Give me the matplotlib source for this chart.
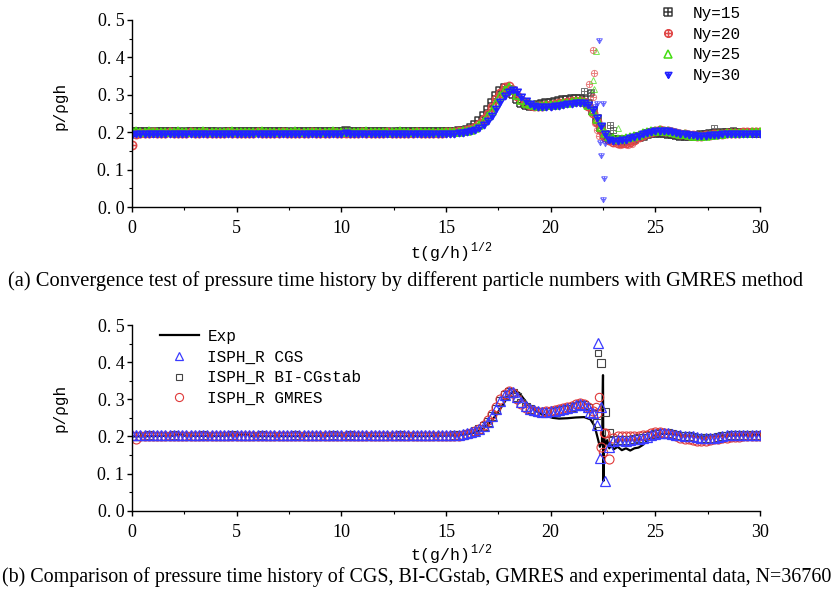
import numpy as np
import matplotlib.pyplot as plt
from matplotlib.path import Path
from matplotlib.ticker import MultipleLocator

# time samples of the simulation output, t(g/h)^(1/2)
T = np.round(np.arange(0, 30.01, 0.2), 1)

# ---- (a) convergence test, GMRES, different Ny ----
NY15 = [.200, .200, .201, .200, .200, .199, .200, .200, .201, .200, .200, .200, .199, .200, .200,
        .200, .201, .200, .200, .200, .200, .199, .200, .200, .200, .201, .200, .200, .200, .200,
        .200, .200, .200, .201, .200, .200, .200, .200, .199, .200, .200, .200, .200, .200, .200,
        .200, .201, .200, .201, .200, .200, .203, .201, .200, .201, .200, .200, .200, .200, .200,
        .200, .200, .199, .200, .200, .200, .200, .201, .200, .200, .200, .200, .200, .200, .200,
        .200, .200, .201, .202, .204, .207, .212, .219, .229, .243, .259, .277, .296, .311, .318,
        .314, .302, .288, .277, .272, .270, .271, .273, .275, .277, .279, .281, .283, .285, .287,
        .289, .290, .290, .286, .276, .258, .234, .210, .193, .184, .180, .178, .177, .178, .180,
        .183, .187, .191, .195, .198, .199, .199, .198, .196, .194, .192, .191, .190, .190, .190,
        .191, .192, .193, .194, .195, .196, .197, .197, .198, .198, .199, .199, .199, .199, .199,
        .199]
NY20 = [.165, .196, .199, .199, .199, .200, .199, .199, .199, .200, .199, .199, .199, .199, .200,
        .199, .199, .200, .199, .199, .199, .199, .199, .200, .199, .199, .199, .199, .199, .199,
        .200, .199, .199, .199, .199, .199, .200, .199, .199, .199, .199, .199, .199, .200, .199,
        .199, .199, .199, .200, .199, .199, .199, .199, .199, .199, .200, .199, .199, .199, .199,
        .199, .200, .199, .199, .199, .199, .199, .199, .200, .199, .199, .199, .199, .199, .199,
        .200, .200, .201, .202, .203, .205, .209, .215, .223, .235, .250, .268, .288, .306, .320,
        .324, .313, .298, .285, .277, .273, .271, .270, .271, .272, .273, .275, .277, .279, .281,
        .283, .284, .284, .280, .270, .252, .228, .205, .188, .178, .173, .171, .171, .172, .175,
        .180, .186, .192, .197, .201, .204, .205, .204, .202, .200, .198, .196, .194, .193, .192,
        .191, .191, .192, .193, .194, .195, .196, .197, .198, .199, .199, .200, .200, .200, .200,
        .200]
NY25 = [.203, .202, .201, .201, .202, .201, .201, .201, .201, .201, .201, .202, .201, .201, .201,
        .201, .201, .202, .201, .201, .201, .201, .201, .201, .202, .201, .201, .201, .201, .201,
        .201, .202, .201, .201, .201, .201, .201, .201, .201, .202, .201, .201, .201, .201, .201,
        .201, .201, .201, .202, .201, .201, .201, .201, .201, .201, .201, .202, .201, .201, .201,
        .201, .201, .201, .201, .202, .201, .201, .201, .201, .201, .201, .201, .201, .201, .201,
        .200, .200, .200, .201, .202, .204, .207, .212, .219, .229, .242, .258, .278, .297, .312,
        .320, .314, .300, .287, .279, .275, .272, .271, .271, .272, .273, .274, .275, .277, .279,
        .281, .283, .283, .281, .274, .258, .236, .214, .197, .188, .184, .183, .183, .184, .186,
        .189, .193, .197, .200, .203, .204, .205, .204, .203, .200, .198, .196, .194, .192, .191,
        .190, .190, .191, .192, .193, .195, .196, .197, .198, .198, .199, .199, .199, .200, .200,
        .200]
NY30 = [.195, .198, .199, .198, .199, .199, .199, .198, .199, .199, .199, .199, .198, .199, .199,
        .199, .198, .199, .199, .199, .199, .199, .198, .199, .199, .199, .199, .199, .198, .199,
        .199, .199, .199, .198, .199, .199, .199, .199, .199, .198, .199, .199, .199, .199, .199,
        .198, .199, .199, .199, .199, .199, .200, .199, .199, .199, .198, .199, .199, .199, .199,
        .199, .198, .199, .199, .199, .199, .199, .199, .198, .199, .199, .199, .199, .199, .199,
        .199, .199, .199, .200, .200, .202, .205, .209, .215, .223, .233, .247, .264, .284, .300,
        .311, .316, .310, .298, .286, .278, .274, .271, .270, .270, .271, .272, .273, .275, .277,
        .279, .281, .281, .280, .275, .263, .240, .220, .198, .183, .180, .180, .181, .183, .186,
        .189, .193, .197, .201, .204, .205, .206, .206, .205, .203, .201, .199, .197, .195, .194,
        .193, .193, .193, .194, .195, .196, .197, .197, .198, .198, .199, .199, .199, .199, .199,
        .199]
# scattered points around the impact
NY15_XT = [21.6, 21.9, 21.93, 22.84, 23.0, 27.8, 28.7]
NY15_XP = [.311, .304, .308, .219, .206, .211, .206]
NY20_XT = [22.04, 22.07, 21.84, 22.04, 22.23, 22.12, 23.3, 23.7, 23.9, 22.3]
NY20_XP = [.420, .359, .329, .293, .206, .224, .166, .166, .168, .190]
NY25_XT = [22.15, 22.04, 22.07, 23.24, 22.4]
NY25_XP = [.418, .340, .315, .210, .220]
NY30_XT = [22.3, 22.36, 22.4, 22.57, 22.5, 22.2, 22.5, 22.1, 22.7, 22.6]
NY30_XP = [.447, .175, .139, .077, .021, .277, .277, .270, .190, .170]

# ---- (b) solver comparison, N=36760 ----
CGS = [.203, .203, .203, .203, .204, .203, .203, .203, .203, .203, .204, .203, .203, .203, .203,
       .203, .203, .204, .203, .203, .203, .203, .203, .203, .204, .203, .203, .203, .203, .203,
       .203, .204, .203, .203, .203, .203, .203, .203, .203, .204, .203, .203, .203, .203, .203,
       .203, .203, .203, .204, .203, .203, .203, .204, .203, .203, .203, .203, .203, .203, .203,
       .203, .203, .203, .203, .204, .203, .203, .203, .203, .203, .203, .203, .203, .203, .203,
       .203, .203, .204, .205, .206, .208, .211, .215, .221, .228, .240, .256, .275, .296, .312,
       .320, .319, .306, .292, .281, .274, .270, .268, .267, .267, .268, .269, .271, .273, .276,
       .280, .284, .286, .285, .278, .262, .232, .280, .080, .172, .188, .190, .190, .189, .190,
       .192, .194, .196, .199, .203, .206, .208, .209, .209, .207, .205, .203, .202, .201, .200,
       .198, .197, .196, .196, .197, .199, .201, .203, .204, .205, .205, .205, .205, .205, .205,
       .205]
BICG = [.202, .202, .202, .202, .203, .202, .202, .202, .202, .202, .203, .202, .202, .202, .202,
        .202, .202, .203, .202, .202, .202, .202, .202, .202, .203, .202, .202, .202, .202, .202,
        .202, .203, .202, .202, .202, .202, .202, .202, .202, .203, .202, .202, .202, .202, .202,
        .202, .202, .202, .203, .202, .202, .202, .203, .202, .202, .202, .202, .202, .202, .202,
        .202, .202, .202, .202, .203, .202, .202, .202, .202, .202, .202, .202, .202, .202, .202,
        .202, .202, .203, .204, .205, .207, .210, .214, .220, .227, .239, .255, .274, .295, .311,
        .319, .318, .305, .291, .280, .273, .269, .267, .266, .266, .267, .268, .270, .272, .275,
        .279, .283, .285, .284, .277, .261, .235, .399, .267, .210, .190, .191, .191, .190, .191,
        .193, .195, .197, .200, .204, .207, .209, .209, .208, .206, .204, .202, .201, .200, .199,
        .197, .196, .195, .195, .196, .198, .200, .202, .203, .204, .204, .204, .204, .204, .204,
        .204]
GMRES = [.200, .193, .200, .200, .200, .200, .201, .200, .200, .200, .200, .200, .200, .201, .200,
         .200, .200, .200, .200, .200, .201, .200, .200, .200, .200, .200, .200, .200, .201, .200,
         .200, .200, .200, .200, .200, .200, .201, .200, .200, .200, .200, .200, .200, .200, .201,
         .200, .200, .200, .200, .200, .200, .200, .201, .200, .200, .200, .200, .200, .200, .200,
         .201, .200, .200, .200, .200, .200, .200, .200, .200, .201, .200, .200, .200, .200, .200,
         .200, .200, .201, .202, .204, .207, .210, .215, .221, .230, .243, .260, .280, .300, .315,
         .322, .316, .301, .287, .277, .271, .268, .267, .267, .268, .269, .271, .273, .276, .279,
         .283, .287, .289, .287, .280, .268, .262, .172, .210, .139, .195, .200, .201, .200, .200,
         .200, .201, .203, .205, .208, .211, .211, .210, .207, .203, .200, .197, .194, .192, .190,
         .189, .188, .189, .190, .192, .194, .196, .197, .198, .199, .199, .200, .200, .200, .200,
         .200]
CGS_XT = [22.28, 22.36, 21.9]
CGS_XP = [.452, .141, .267]
BICG_XT = [22.27]
BICG_XP = [.424]
GMRES_XT = [22.33, 22.48, 22.57, 22.17]
GMRES_XP = [.305, .159, .210, .280]

EXP_T = [0.0, 1.0, 2.0, 2.3, 2.5, 4.0, 5.5, 5.7, 8.0, 10.0, 12.0, 14.0, 15.0, 15.5, 16.0, 16.4,
         16.8, 17.2, 17.6, 17.9, 18.1, 18.3, 18.5, 18.7, 18.9, 19.2, 19.5, 19.8, 20.1, 20.4, 20.8,
         21.2, 21.6, 21.9, 22.1, 22.25, 22.35, 22.45, 22.5, 22.52, 22.55, 22.6, 22.7, 22.8, 22.9,
         23.0, 23.2, 23.4, 23.6, 23.8, 24.0, 24.2, 24.4, 24.6, 24.8, 25.0, 25.3, 25.6, 26.0, 27.0,
         28.0, 29.0, 30.0]
EXP_P = [.200, .201, .202, .206, .202, .201, .205, .201, .201, .202, .201, .201, .202, .203, .206,
         .211, .222, .243, .275, .302, .316, .322, .317, .302, .287, .272, .262, .255, .250, .248,
         .249, .251, .252, .246, .228, .195, .172, .185, .365, .080, .200, .175, .190, .168, .178,
         .165, .172, .163, .168, .162, .168, .170, .177, .187, .196, .203, .207, .207, .205, .199,
         .201, .203, .204]

YTICKS = [0.0, 0.1, 0.2, 0.3, 0.4, 0.5]
YTICKLABELS = ['0. 0', '0. 1', '0. 2', '0. 3', '0. 4', '0. 5']
XTICKS = [0, 5, 10, 15, 20, 25, 30]

# marker shapes seen in panel (a)
M, L = Path.MOVETO, Path.LINETO
BOX_PLUS = Path([(-1, -1), (1, -1), (1, 1), (-1, 1), (-1, -1), (0, -1), (0, 1), (-1, 0), (1, 0)],
                [M, L, L, L, L, M, L, M, L])
CIRC_PLUS = Path.make_compound_path(Path.unit_circle(),
                                    Path([(0, -1), (0, 1), (-1, 0), (1, 0)], [M, L, M, L]))
TRI_DOWN_PLUS = Path([(-1, 0.6), (1, 0.6), (0, -1.1), (-1, 0.6), (0, 0.6), (0, -1.1), (-0.5, 0), (0.5, 0)],
                     [M, L, L, L, M, L, M, L])

SERIF = 'Liberation Serif'
MONO = 'Liberation Mono'
W, H = 835, 594


def style_axes(ax):
    ax.spines['top'].set_visible(False)
    ax.spines['right'].set_visible(False)
    ax.spines['left'].set_linewidth(1.0)
    ax.spines['bottom'].set_linewidth(1.0)
    ax.set_xlim(0, 30)
    ax.set_ylim(0, 0.5)
    ax.set_xticks(XTICKS)
    ax.set_xticklabels([str(x) for x in XTICKS], fontfamily=SERIF, fontsize=13)
    ax.set_yticks(YTICKS)
    ax.set_yticklabels(YTICKLABELS, fontfamily=SERIF, fontsize=13)
    ax.xaxis.set_minor_locator(MultipleLocator(2.5))
    ax.yaxis.set_minor_locator(MultipleLocator(0.05))
    ax.tick_params(which='major', direction='out', length=3.5, width=1.0)
    ax.tick_params(which='minor', direction='out', length=2, width=0.8)
    ax.tick_params(axis='x', which='major', pad=6)
    ax.tick_params(axis='y', which='major', pad=2)


fig = plt.figure(figsize=(W / 100, H / 100), dpi=100)
ax1 = fig.add_axes([132 / W, 1 - 207 / H, 628 / W, 187 / H])
ax2 = fig.add_axes([132 / W, 1 - 510.7 / H, 628 / W, 185.7 / H])

# panel (a)
top_series = [
    (NY15, NY15_XT, NY15_XP, BOX_PLUS, '#3a3a3a', 'Ny=15'),
    (NY20, NY20_XT, NY20_XP, CIRC_PLUS, '#e04848', 'Ny=20'),
    (NY25, NY25_XT, NY25_XP, '^', '#44dd11', 'Ny=25'),
    (NY30, NY30_XT, NY30_XP, TRI_DOWN_PLUS, '#2222ff', 'Ny=30'),
]
for vals, xt, xp, mk, col, lab in top_series:
    ax1.plot(T, vals, ls='none', marker=mk, ms=6, mfc='none', mec=col, mew=1.1, label=lab)
    ax1.plot(xt, xp, ls='none', marker=mk, ms=4.5, mfc='none', mec=col, mew=0.7, alpha=0.7)
style_axes(ax1)
ax1.legend(loc='upper left', bbox_to_anchor=(0.84, 1.075), frameon=False,
           prop={'family': MONO, 'size': 11.5}, handlelength=1.0, handletextpad=1.1,
           labelspacing=0.35, borderpad=0, borderaxespad=0, markerscale=0.9)

# panel (b)
ax2.plot(EXP_T, EXP_P, color='black', lw=1.6, label='Exp')
ax2.plot(T, BICG, ls='none', marker='s', ms=5.5, mfc='none', mec='#444444', mew=0.8,
         label='ISPH_R BI-CGstab')
ax2.plot(BICG_XT, BICG_XP, ls='none', marker='s', ms=5, mfc='none', mec='#444444', mew=0.8)
ax2.plot(T, GMRES, ls='none', marker='o', ms=6.5, mfc='none', mec='#e03a3a', mew=0.8,
         label='ISPH_R GMRES')
ax2.plot(GMRES_XT, GMRES_XP, ls='none', marker='o', ms=6, mfc='none', mec='#e03a3a', mew=0.8)
ax2.plot(T, CGS, ls='none', marker='^', ms=7, mfc='none', mec='#3b3bff', mew=0.9,
         label='ISPH_R CGS')
ax2.plot(CGS_XT, CGS_XP, ls='none', marker='^', ms=6.5, mfc='none', mec='#3b3bff', mew=0.9)
style_axes(ax2)
h, lbl = ax2.get_legend_handles_labels()
order = [0, 3, 1, 2]
ax2.legend([h[i] for i in order], [lbl[i] for i in order], loc='upper left',
           bbox_to_anchor=(0.045, 0.978), frameon=False, prop={'family': MONO, 'size': 11.5},
           handlelength=2.4, handletextpad=0.55, labelspacing=0.35, borderpad=0, borderaxespad=0,
           markerscale=0.9)

# axis titles and captions
for ycen, xlab_y in [(106, 252), (408, 554)]:
    fig.text(60 / W, 1 - ycen / H, 'p/ρgh', rotation=90, ha='center', va='center',
             fontfamily=MONO, fontsize=11.5)
    fig.text(410 / W, 1 - xlab_y / H, r't(g/h)$^{\mathregular{1/2}}$', ha='left', va='center',
             fontfamily=MONO, fontsize=12)

fig.text(405 / W, 1 - 281 / H,
         '(a) Convergence test of pressure time history by different particle numbers with GMRES method',
         ha='center', va='center', fontfamily=SERIF, fontsize=14.8)
fig.text(831 / W, 1 - 577 / H,
         '(b) Comparison of pressure time history of CGS, BI-CGstab, GMRES and experimental data, N=36760',
         ha='right', va='center', fontfamily=SERIF, fontsize=14.4)

fig.savefig('out.png', dpi=100)
